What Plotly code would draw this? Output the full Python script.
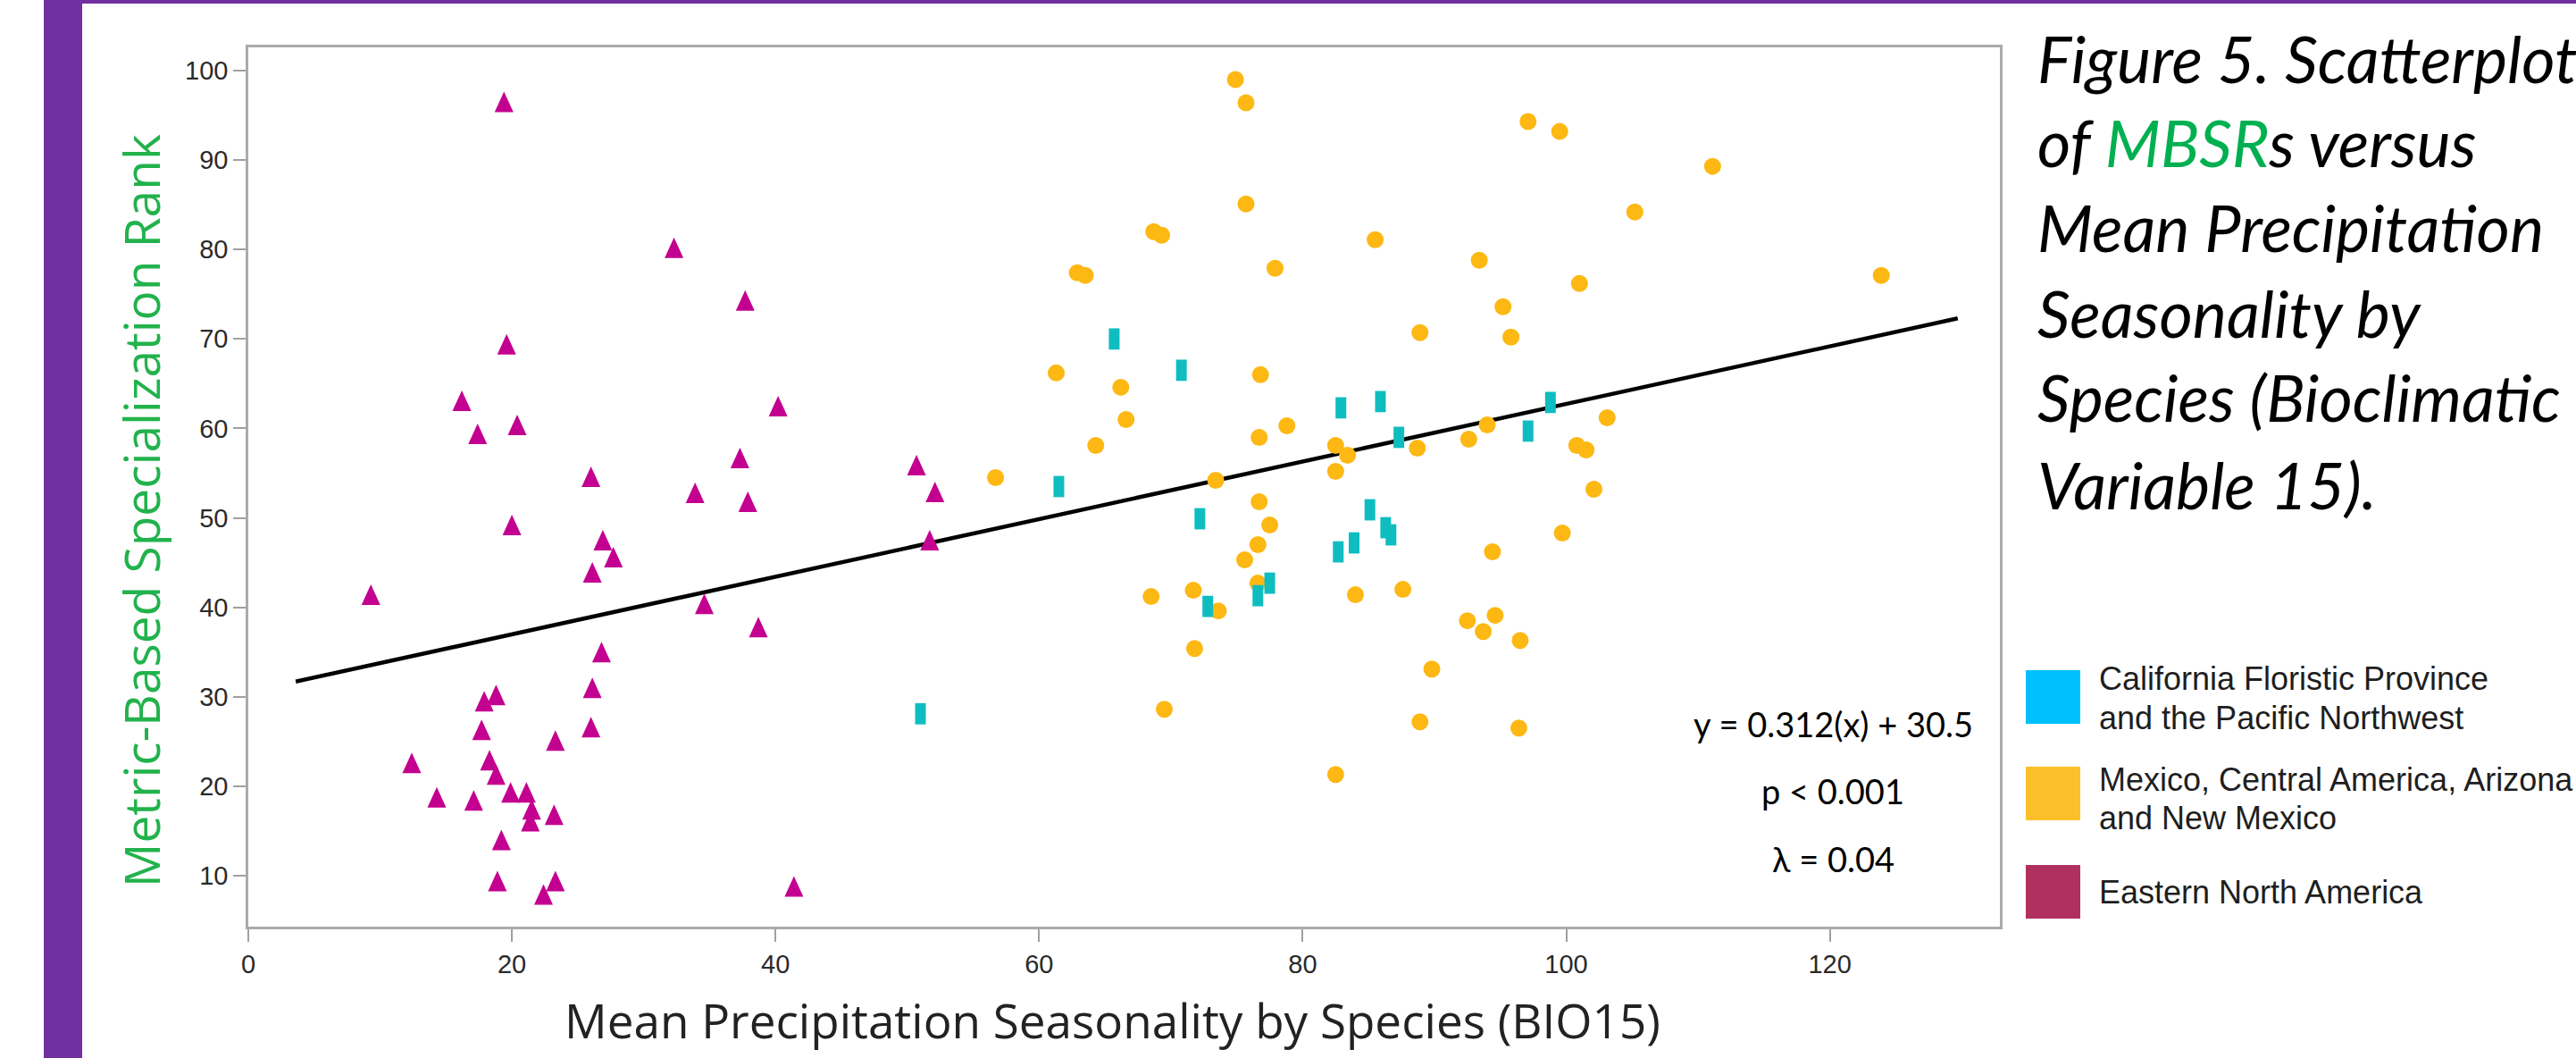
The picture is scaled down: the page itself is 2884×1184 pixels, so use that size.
import plotly.graph_objects as go

# ---------------- data ----------------
# Eastern North America (magenta triangles)
ena_x = [16.2, 17.4, 20.4, 40.2, 26.0, 37.3, 33.9, 37.9, 50.7, 52.1, 51.7, 20.0, 26.9, 27.7,
         26.1, 9.3, 34.6, 38.7, 26.8, 26.1, 17.9, 18.8, 17.7, 26.0, 23.3, 12.4, 18.3, 18.8,
         14.3, 17.1, 19.9, 21.1, 21.5, 21.4, 23.2, 19.2, 18.9, 23.3, 22.4, 41.4, 19.4, 32.3,
         37.7, 19.6]
ena_y = [63.1, 59.4, 60.4, 62.5, 54.6, 56.7, 52.8, 51.8, 55.9, 52.9, 47.5, 49.2, 47.5, 45.6,
         43.9, 41.4, 40.4, 37.8, 35.0, 31.0, 29.5, 30.2, 26.3, 26.6, 25.1, 22.6, 22.9, 21.3,
         18.75, 18.4, 19.3, 19.3, 17.4, 16.1, 16.8, 14.0, 9.4, 9.4, 7.9, 8.8, 96.5, 80.2,
         74.3, 69.4]

# California Floristic Province and the Pacific Northwest (cyan bars)
cfp_x = [51.0, 61.5, 65.7, 70.8, 72.2, 72.8, 76.6, 77.5, 82.9, 85.9, 82.7, 83.9, 85.1, 86.3,
         86.7, 87.3, 97.1, 98.8]
cfp_y = [28.1, 53.5, 70.0, 66.5, 49.9, 40.1, 41.3, 42.7, 62.3, 63.0, 46.2, 47.2, 50.9, 48.9,
         48.1, 59.0, 59.7, 62.9]

# Mexico, Central America, Arizona and New Mexico (yellow circles)
mex_x = [68.7, 69.3, 62.9, 63.5, 61.3, 66.2, 66.6, 64.3, 56.7, 68.5, 69.5,
         74.9, 75.7, 75.7, 85.5, 77.9, 76.8, 78.8, 76.7, 82.5, 83.4, 82.5, 73.4, 76.7, 77.5,
         76.6, 75.6, 76.6, 71.7, 73.6, 71.8, 84.0, 82.5,
         97.1, 99.5, 93.4, 101.0, 95.2, 95.8, 88.9, 88.7, 92.6, 94.0, 100.8, 101.5, 102.1,
         99.7, 94.4, 87.6, 92.5, 94.6, 93.7, 96.5, 89.8, 88.9, 96.4,
         111.1, 105.2, 103.1, 123.9]
mex_y = [82.0, 81.6, 77.4, 77.1, 66.2, 64.6, 61.0, 58.1, 54.5, 41.2, 28.6,
         99.0, 96.4, 85.1, 81.1, 77.9, 66.0, 60.3, 59.0, 58.1, 57.0, 55.2, 54.2, 51.8, 49.2,
         47.0, 45.3, 42.7, 41.9, 39.6, 35.4, 41.4, 21.3,
         94.3, 93.2, 78.8, 76.2, 73.6, 70.2, 70.7, 57.8, 58.8, 60.4, 58.1, 57.6, 53.2,
         48.3, 46.2, 42.0, 38.5, 39.1, 37.3, 36.3, 33.1, 27.2, 26.5,
         89.3, 84.2, 61.2, 77.1]

# regression line end points
fit_x = [3.6, 129.7]
fit_y = [31.7, 72.3]

x_ticks = [0, 20, 40, 60, 80, 100, 120]
y_ticks = [10, 20, 30, 40, 50, 60, 70, 80, 90, 100]

legend_labels = [["California Floristic Province", "and the Pacific Northwest"],
                 ["Mexico, Central America, Arizona", "and New Mexico"],
                 ["Eastern North America"]]
legend_colors = ["#00BFFF", "#FEC02A", "#B0305E"]

caption_lines = ["Figure 5. Scatterplot",
                 "of <span style='color:#00B050'>MBSR</span>s versus",
                 "Mean Precipitation",
                 "Seasonality by",
                 "Species (Bioclimatic",
                 "Variable 15)."]
stats_lines = ["y = 0.312(x) + 30.5", "p < 0.001", "\u03bb = 0.04"]

x_title = "Mean Precipitation Seasonality by Species (BIO15)"
y_title = "Metric-Based Specialization Rank"

# ---------------- styling ----------------
W, H = 2884, 1184
L, R, T, B = 278, 2239, 53, 1037
PURPLE = "#7030A0"
MAGENTA = "#C3008F"
CYAN = "#0FBDC0"
YELLOW = "#FDB813"
AXIS_GRAY = "#ABABAB"


def px(xp):
    return (xp - L) / (R - L)


def py(yp):
    return (B - yp) / (B - T)


fig = go.Figure()

fig.add_trace(go.Scatter(x=fit_x, y=fit_y, mode="lines",
                         line=dict(color="black", width=4.5), hoverinfo="skip"))
fig.add_trace(go.Scatter(x=mex_x, y=mex_y, mode="markers", name="Mexico",
                         marker=dict(symbol="circle", size=19, color=YELLOW,
                                     line=dict(width=0))))
fig.add_trace(go.Scatter(x=cfp_x, y=cfp_y, mode="markers", name="California",
                         marker=dict(symbol="line-ns", size=17,
                                     line=dict(width=12, color=CYAN))))
fig.add_trace(go.Scatter(x=ena_x, y=ena_y, mode="markers", name="Eastern",
                         marker=dict(symbol="triangle-up", size=10, color=MAGENTA,
                                     line=dict(width=0))))

shapes = []
# triangles drawn in pixel size around each data point
for xv, yv in zip(ena_x, ena_y):
    shapes.append(dict(type="path", xref="x", yref="y", xsizemode="pixel", ysizemode="pixel",
                       xanchor=xv, yanchor=yv,
                       path="M-10.5,-11.5 L10.5,-11.5 L0,11.5 Z",
                       fillcolor=MAGENTA, line=dict(width=0)))

# purple frame
shapes.append(dict(type="rect", xref="paper", yref="paper", x0=px(49), x1=px(92),
                   y0=py(H), y1=py(0), fillcolor=PURPLE, line=dict(width=0), layer="above"))
shapes.append(dict(type="rect", xref="paper", yref="paper", x0=px(49), x1=px(W),
                   y0=py(4), y1=py(0), fillcolor=PURPLE, line=dict(width=0), layer="above"))

# legend squares
sq_tops = [750, 858, 968]
for top, col in zip(sq_tops, legend_colors):
    shapes.append(dict(type="rect", xref="paper", yref="paper", x0=px(2268), x1=px(2329),
                       y0=py(top + 60), y1=py(top), fillcolor=col, line=dict(width=0)))

annotations = []
# legend text
leg_baselines = [[772, 816], [885, 928], [1011]]
for lines, bases in zip(legend_labels, leg_baselines):
    for txt, bl in zip(lines, bases):
        annotations.append(dict(x=px(2348), y=py(bl - 13), xref="paper", yref="paper",
                                text=txt, showarrow=False, xanchor="left", yanchor="middle",
                                font=dict(family="Liberation Sans", size=36, color="#1E1E1E")))

# caption
cap_baselines = [94, 188, 283, 379, 473, 571]
for txt, bl in zip(caption_lines, cap_baselines):
    annotations.append(dict(x=px(2279), y=py(bl - 29), xref="paper", yref="paper",
                            text="<i>" + txt + "</i>", showarrow=False, xanchor="left",
                            yanchor="middle",
                            font=dict(family="Lato", size=72, color="black")))

# stats text
stats_centers = [810, 885, 961]
for txt, cy in zip(stats_lines, stats_centers):
    annotations.append(dict(x=px(2052), y=py(cy), xref="paper", yref="paper", text=txt,
                            showarrow=False, xanchor="center", yanchor="middle",
                            font=dict(family="Lato", size=38, color="black")))

# axis titles
annotations.append(dict(x=px(1245), y=py(1141), xref="paper", yref="paper", text=x_title,
                        showarrow=False, xanchor="center", yanchor="middle",
                        font=dict(family="Open Sans", size=53, color="#222222")))
annotations.append(dict(x=px(157), y=py(572), xref="paper", yref="paper", text=y_title,
                        showarrow=False, xanchor="center", yanchor="middle", textangle=-90,
                        font=dict(family="Open Sans", size=55, color="#22B24C")))

axis_common = dict(showgrid=False, zeroline=False, showline=True, mirror=True,
                   linecolor=AXIS_GRAY, linewidth=2.5, ticks="outside", ticklen=14,
                   tickwidth=2, tickcolor="#A0A0A0",
                   tickfont=dict(family="Liberation Sans", size=29, color="#2A2A2A"))

fig.update_layout(
    width=W, height=H,
    margin=dict(l=L, r=W - R, t=T, b=H - B, autoexpand=False),
    paper_bgcolor="white", plot_bgcolor="white", showlegend=False,
    xaxis=dict(range=[0, 132.9], tickvals=x_ticks, **axis_common),
    yaxis=dict(range=[4.3, 102.6], tickvals=y_ticks, **axis_common),
    shapes=shapes, annotations=annotations,
)

fig.write_html("out.html", config={"displayModeBar": False},
               post_script="document.body.style.margin='0px';document.body.style.padding='0px';")
